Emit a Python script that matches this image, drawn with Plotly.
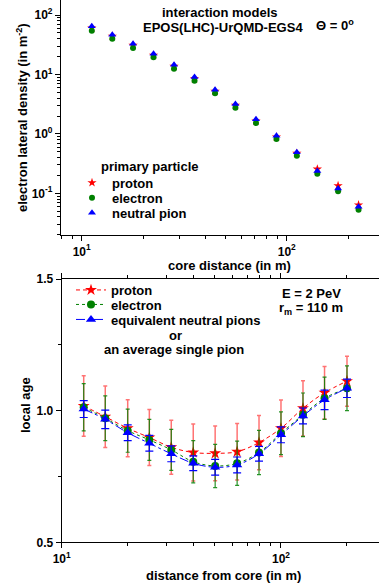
import plotly.graph_objects as go

# ---------- data: top panel (lateral density) ----------
r_top = [11.2, 14.1, 17.8, 22.4, 28.2, 35.5, 44.7, 56.2, 70.8, 89.1, 112, 141, 178, 224]
rho_proton = [60.7, 44.0, 31.0, 21.0, 13.7, 8.5, 5.21, 3.03, 1.65, 0.887, 0.471, 0.256, 0.134, 0.0636]
rho_electron = [54.6, 40.1, 27.9, 19.5, 12.5, 7.87, 4.82, 2.76, 1.53, 0.821, 0.430, 0.214, 0.108, 0.0530]
rho_pion = [64.8, 46.8, 33.0, 22.4, 14.6, 9.08, 5.55, 3.18, 1.76, 0.933, 0.490, 0.237, 0.121, 0.0595]

# ---------- data: bottom panel (local age) ----------
r_bot = [12.6, 15.8, 20.0, 25.1, 31.6, 39.8, 50.1, 63.1, 79.4, 100, 126, 158, 200]
age_proton = [1.018, 0.977, 0.933, 0.898, 0.861, 0.841, 0.838, 0.844, 0.879, 0.933, 1.009, 1.068, 1.112]
err_proton = [0.115, 0.117, 0.108, 0.106, 0.103, 0.108, 0.104, 0.107, 0.103, 0.107, 0.105, 0.100, 0.095]
age_electron = [1.013, 0.971, 0.924, 0.889, 0.851, 0.806, 0.790, 0.800, 0.841, 0.914, 0.984, 1.047, 1.085]
err_electron = [0.090, 0.085, 0.082, 0.078, 0.078, 0.080, 0.082, 0.084, 0.084, 0.081, 0.083, 0.080, 0.085]
age_pion = [1.006, 0.967, 0.916, 0.876, 0.836, 0.800, 0.785, 0.794, 0.836, 0.908, 0.980, 1.041, 1.085]
err_pion = [0.032, 0.035, 0.030, 0.030, 0.030, 0.028, 0.030, 0.030, 0.028, 0.030, 0.030, 0.037, 0.035]

log_ticks = [10, 100]
log_ticktext = ["10<sup>1</sup>", "10<sup>2</sup>"]
x_minor = [8, 9, 20, 30, 40, 50, 60, 70, 80, 90, 200]
y_top_ticks = [0.1, 1, 10, 100]
y_top_ticktext = ["10<sup>-1</sup>", "10<sup>0</sup>", "10<sup>1</sup>", "10<sup>2</sup>"]
y_top_minor = [m * 10.0 ** e for e in (-2, -1, 0, 1, 2) for m in range(2, 10)]
age_ticks = [0.5, 1.0, 1.5]
age_ticktext = ["0.5", "1.0", "1.5"]

W, H = 379, 587
RED, GREEN, BLUE = "#ff0000", "#008000", "#0000ff"
FONT = "Liberation Sans, Arial, sans-serif"


def px_x(p):
    return p / W


def px_y(p):
    return 1 - p / H


fig = go.Figure()

# ---------- top panel traces ----------
fig.add_trace(go.Scatter(x=r_top, y=rho_proton, mode="markers", name="proton",
                         marker=dict(symbol="star", size=7, color=RED),
                         xaxis="x", yaxis="y", legend="legend"))
fig.add_trace(go.Scatter(x=r_top, y=rho_electron, mode="markers", name="electron",
                         marker=dict(symbol="circle", size=6, color=GREEN),
                         xaxis="x", yaxis="y", legend="legend2"))
fig.add_trace(go.Scatter(x=r_top, y=rho_pion, mode="markers", name="neutral pion",
                         marker=dict(symbol="triangle-up", size=7, color=BLUE),
                         xaxis="x", yaxis="y", legend="legend3"))

# ---------- bottom panel traces ----------
fig.add_trace(go.Scatter(x=r_bot, y=age_proton, mode="lines+markers", name="proton",
                         line=dict(color=RED, dash="4px,3px", width=1, shape="spline"),
                         marker=dict(symbol="star", size=9, color=RED),
                         error_y=dict(type="data", array=err_proton, color="rgba(255,0,0,0.55)",
                                      thickness=1.5, width=2),
                         xaxis="x2", yaxis="y2", legend="legend4"))
fig.add_trace(go.Scatter(x=r_bot, y=age_electron, mode="lines+markers", name="electron",
                         line=dict(color=GREEN, dash="dot", width=1, shape="spline"),
                         marker=dict(symbol="circle", size=8, color=GREEN),
                         error_y=dict(type="data", array=err_electron, color="rgba(0,128,0,0.85)",
                                      thickness=1.2, width=2),
                         xaxis="x2", yaxis="y2", legend="legend5"))
fig.add_trace(go.Scatter(x=r_bot, y=age_pion, mode="lines+markers", name="equivalent neutral pions",
                         line=dict(color=BLUE, dash="dashdot", width=1, shape="spline"),
                         marker=dict(symbol="triangle-up", size=9, color=BLUE),
                         error_y=dict(type="data", array=err_pion, color=BLUE,
                                      thickness=1.2, width=4),
                         xaxis="x2", yaxis="y2", legend="legend6"))

axis_common = dict(showgrid=False, zeroline=False, showline=True, linecolor="black",
                   linewidth=1.2, ticks="outside", tickcolor="black", ticklen=5,
                   automargin=False,
                   tickfont=dict(size=12, family=FONT, color="black", weight="bold"))

leg_font = dict(size=13, family=FONT, color="black", weight="bold")


def leg(xp, yp):
    return dict(x=px_x(xp), y=px_y(yp), xanchor="left", yanchor="middle",
                bgcolor="rgba(0,0,0,0)", borderwidth=0, tracegroupgap=0, font=leg_font)


fig.update_layout(
    template="none",
    width=W, height=H, autosize=False,
    margin=dict(l=0, r=0, t=0, b=0, autoexpand=False),
    paper_bgcolor="white", plot_bgcolor="white",
    font=dict(family=FONT, size=12, color="black", weight="bold"),
    xaxis=dict(type="log", domain=[61 / W, 1], range=[0.899, 2.450], anchor="y",
               tickvals=log_ticks, ticktext=log_ticktext, mirror="ticks",
               minor=dict(tickvals=x_minor, ticks="outside", ticklen=3, tickcolor="black"),
               **axis_common),
    yaxis=dict(type="log", domain=[1 - 235 / H, 1], range=[-1.702, 2.254], anchor="x",
               tickvals=y_top_ticks, ticktext=y_top_ticktext,
               minor=dict(tickvals=y_top_minor, ticks="outside", ticklen=3, tickcolor="black"),
               **axis_common),
    xaxis2=dict(type="log", domain=[61.7 / W, 1], range=[1.0, 2.447], anchor="y2",
                tickvals=log_ticks, ticktext=log_ticktext, mirror="ticks",
                minor=dict(tickvals=x_minor, ticks="outside", ticklen=3, tickcolor="black"),
                **axis_common),
    yaxis2=dict(domain=[1 - 542.3 / H, 1 - 279 / H], range=[0.5, 1.5], anchor="x2",
                tickvals=age_ticks, ticktext=age_ticktext,
                minor=dict(tickvals=[0.75, 1.25], ticks="outside", ticklen=3, tickcolor="black"),
                **axis_common),
    legend=leg(72, 182.7),
    legend2=leg(72, 197.7),
    legend3=leg(72, 212.7),
    legend4=leg(71, 290),
    legend5=leg(71, 304.5),
    legend6=leg(71, 319.5),
    showlegend=True,
)

ann_font = dict(size=13, family=FONT, color="black", weight="bold")
annotations = [
    dict(text="interaction models", x=px_x(220), y=px_y(12)),
    dict(text="EPOS(LHC)-UrQMD-EGS4", x=px_x(222.5), y=px_y(27)),
    dict(text="Θ = 0<sup>o</sup>", x=px_x(335), y=px_y(25)),
    dict(text="primary particle", x=px_x(99), y=px_y(166.5), xanchor="left"),
    dict(text="electron lateral density (in m<sup>-2</sup>)", x=px_x(22), y=px_y(118), textangle=-90),
    dict(text="core distance (in m)", x=px_x(229.5), y=px_y(265)),
    dict(text="E = 2 PeV", x=px_x(311), y=px_y(293)),
    dict(text="r<sub>m</sub> = 110 m", x=px_x(311), y=px_y(308)),
    dict(text="or", x=px_x(175), y=px_y(335)),
    dict(text="an average single pion", x=px_x(174), y=px_y(349.5)),
    dict(text="local age", x=px_x(25), y=px_y(405), textangle=-90),
    dict(text="distance from core (in m)", x=px_x(223.5), y=px_y(575)),
]
for a in annotations:
    a.setdefault("xanchor", "center")
    fig.add_annotation(xref="paper", yref="paper", showarrow=False, yanchor="middle",
                       font=ann_font, **a)

# remove the browser's default page margin so the figure fills the window exactly
fig.write_html("out.html", config={"displayModeBar": False},
               post_script="document.body.style.margin='0';document.body.style.overflow='hidden';")
